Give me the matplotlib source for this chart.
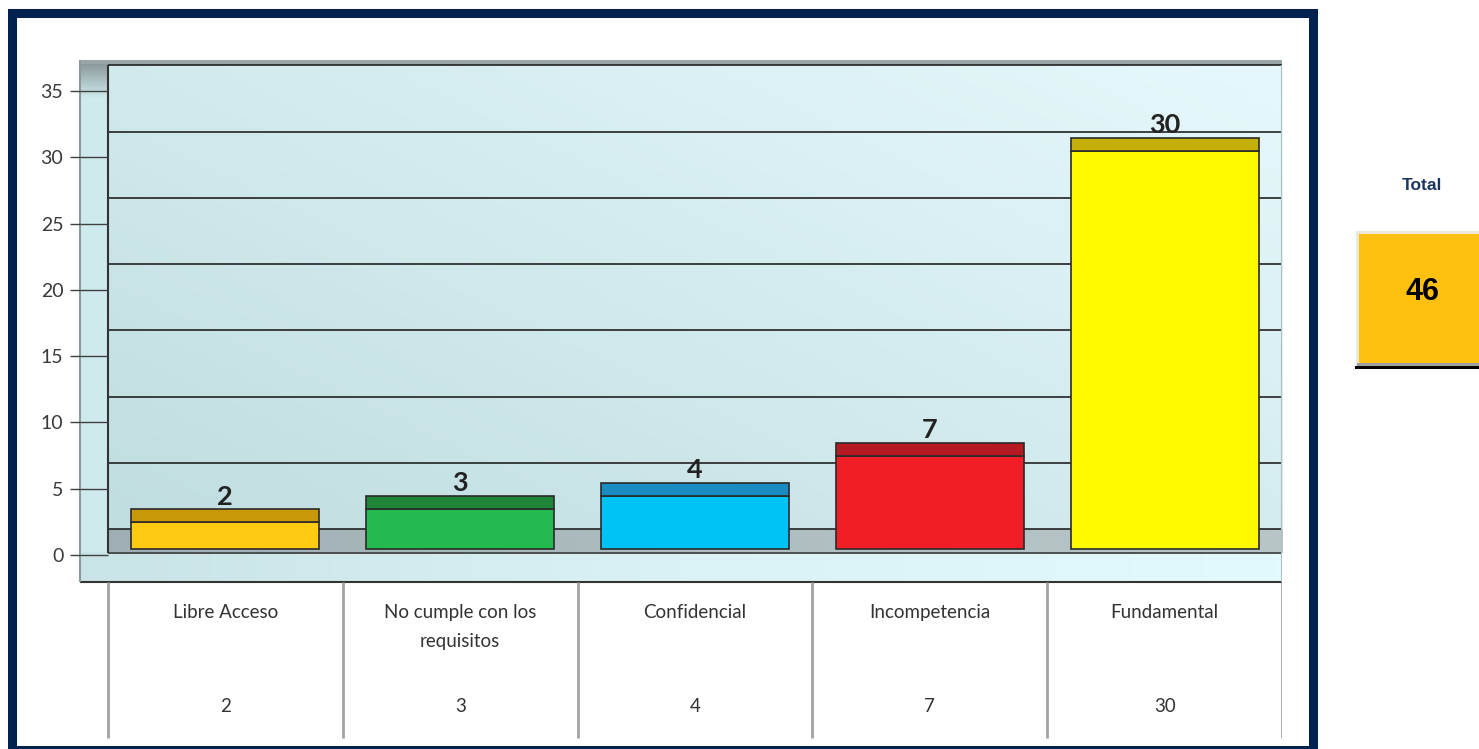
import matplotlib
matplotlib.use('Agg')
import matplotlib.pyplot as plt
import numpy as np
from matplotlib.patches import Rectangle
from matplotlib.colors import LinearSegmentedColormap

# data
categorias = ['Libre Acceso', 'No cumple con los\nrequisitos', 'Confidencial',
              'Incompetencia', 'Fundamental']
valores = [2, 3, 4, 7, 30]
y_ticks = [0, 5, 10, 15, 20, 25, 30, 35]

color_frente = ['#FFCB12', '#24BA50', '#00C3F5', '#F11E28', '#FFFA00']
color_tapa = ['#C99808', '#1F8438', '#1B8CC2', '#B51A22', '#C4AE08']

W, H = 1479, 749
def fx(p):
    return p / W
def fy(p):
    return 1 - p / H

fig = plt.figure(figsize=(W / 100, H / 100), dpi=100)
fig.patch.set_facecolor('white')

# fake 3d depths (in value units)
off_frente = 0.45   # front axis plane is lower than bars
off_fondo = 1.5     # back wall is higher than bars
prof = 1.0          # bar top face depth
x_izq = -0.619

ax = fig.add_axes([fx(80), fy(582), fx(1282) - fx(80), fy(60) - fy(582)])
ax.set_xlim(x_izq, 4.5)
ax.set_ylim(-2.49, 36.9)
for s in ax.spines.values():
    s.set_visible(False)
ax.patch.set_alpha(0)
ax.set_xticks([])

# back wall gradient
gx, gy = np.meshgrid(np.linspace(0, 1, 200), np.linspace(0, 1, 100))
t = 0.55 * gx + 0.45 * gy
pared = LinearSegmentedColormap.from_list('pared', ['#c0dde0', '#d3ebed', '#e6f8fb'])
ax.imshow(t, extent=[-0.5, 4.5, off_fondo, 35 + off_fondo], origin='lower',
          cmap=pared, aspect='auto', zorder=0)
# top strip
ax.add_patch(Rectangle((x_izq, 35 + off_fondo), 4.5 - x_izq, 0.4,
                       facecolor='#9aa6a6', edgecolor='none', zorder=0))
# left wall
ax.add_patch(Rectangle((x_izq, -2.49), -0.5 - x_izq, 35 + off_fondo + 2.49,
                       facecolor='#cfeaec', edgecolor='none', zorder=0))
ax.imshow(np.linspace(0, 1, 50).reshape(-1, 1), extent=[x_izq, -0.5, 34.0, 36.5],
          origin='lower', cmap=LinearSegmentedColormap.from_list('esq', ['#cfeaec', '#8c9a9c']),
          aspect='auto', zorder=0)
# floor
piso = LinearSegmentedColormap.from_list('piso', ['#9eaeb2', '#aebdc0', '#b8c6c8'])
ax.imshow(np.linspace(0, 1, 200).reshape(1, -1), extent=[-0.5, 4.5, -0.3, off_fondo],
          cmap=piso, aspect='auto', zorder=0)
# slab front
losa = LinearSegmentedColormap.from_list('losa', ['#c9e4e6', '#daf2f4', '#e2fafc'])
ax.imshow(np.linspace(0, 1, 200).reshape(1, -1), extent=[x_izq, 4.5, -2.49, -0.3],
          cmap=losa, aspect='auto', zorder=0)
ax.set_xlim(x_izq, 4.5)
ax.set_ylim(-2.49, 36.9)

# gridlines on back wall
ax.hlines(np.array(y_ticks) + off_fondo, -0.5, 4.5, color='#222222', lw=1.2, zorder=1)
ax.hlines([-0.3], -0.5, 4.5, color='#333333', lw=1.2, zorder=1)
ax.hlines([-2.49], x_izq, 4.5, color='#333333', lw=1.5, zorder=1, clip_on=False)
ax.vlines([-0.5], -0.3, 35 + off_fondo, color='#333333', lw=1.5, zorder=1)
ax.vlines([4.5], -2.49, 35 + off_fondo, color='#b0c0c0', lw=1.5, zorder=1)
ax.vlines([x_izq], -2.49, 36.9, color='#8c9a9c', lw=1.5, zorder=1, clip_on=False)

# y ticks on front plane
ax.set_yticks(np.array(y_ticks) - off_frente, labels=[str(v) for v in y_ticks])
ax.tick_params(axis='y', length=7, width=1, color='#404040', pad=5,
               labelsize=14, labelcolor='#3a3a3a')
for lb in ax.get_yticklabels():
    lb.set_fontfamily(['Lato', 'DejaVu Sans'])
ax.hlines(np.array(y_ticks) - off_frente, x_izq, -0.5, color='#404040', lw=1, zorder=1)

# bars: front face + top face
x = np.arange(len(valores))
ax.bar(x, valores, width=0.8, color=color_frente, edgecolor='#2a2a2a', linewidth=1.2, zorder=3)
ax.bar(x, [prof] * len(valores), bottom=valores, width=0.8, color=color_tapa,
       edgecolor='#2a2a2a', linewidth=1.2, zorder=3)

for xi, v in zip(x, valores):
    ax.annotate(str(v), (xi, v + prof), xytext=(0, 0.5), textcoords='offset points',
                ha='center', va='bottom', fontsize=19.5, fontweight='bold',
                color='#222222', family=['Lato', 'DejaVu Sans'], zorder=4)

# data table below
tab = fig.add_axes([fx(80), fy(740), fx(1282) - fx(80), fy(582) - fy(740)])
tab.set_xlim(x_izq, 4.5)
tab.set_ylim(158, 0)
tab.axis('off')
tab.vlines(np.arange(-0.5, 5), 0, 156, color='#a3a3a3', lw=2)
for xi, c, v in zip(x, categorias, valores):
    tab.text(xi, 22, c, ha='center', va='top', fontsize=13.5, color='#333333',
             family=['Lato', 'DejaVu Sans'], linespacing=1.85)
    tab.text(xi, 125, str(v), ha='center', va='center', fontsize=13.5, color='#333333',
             family=['Lato', 'DejaVu Sans'])

# navy frame
fig.add_artist(Rectangle((fx(11.5), fy(749.5)), fx(1312.5) - fx(11.5), fy(12.5) - fy(749.5),
                         transform=fig.transFigure, facecolor='none', edgecolor='#00224E',
                         linewidth=6.5))

# total panel
fig.text(fx(1422), fy(185), 'Total', ha='center', va='center', fontsize=12.5,
         fontweight='bold', color='#1c3560', family='Liberation Sans')
fig.add_artist(Rectangle((fx(1356), fy(366)), fx(1479) - fx(1356), fy(231) - fy(366),
                         transform=fig.transFigure, facecolor='#ECE8DC', edgecolor='none'))
fig.add_artist(Rectangle((fx(1359), fy(363)), fx(1479) - fx(1359), fy(234) - fy(363),
                         transform=fig.transFigure, facecolor='#FFC010', edgecolor='none'))
fig.add_artist(Rectangle((fx(1357), fy(366)), fx(1479) - fx(1357), fy(363) - fy(366),
                         transform=fig.transFigure, facecolor='#a0a0a0', edgecolor='none'))
fig.add_artist(Rectangle((fx(1355), fy(369)), fx(1479) - fx(1355), fy(366) - fy(369),
                         transform=fig.transFigure, facecolor='#000000', edgecolor='none'))
fig.text(fx(1422), fy(292), str(sum(valores)), ha='center', va='center', fontsize=22,
         fontweight='bold', color='black', family='Liberation Sans')

fig.savefig('out.png', dpi=100)
